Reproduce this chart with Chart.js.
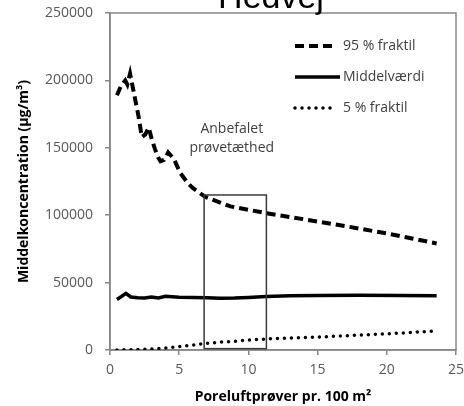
<!DOCTYPE html>
<html><head><meta charset="utf-8">
<script src="https://cdn.jsdelivr.net/npm/chart.js@4/dist/chart.umd.min.js"></script>
<style>html,body{margin:0;padding:0;background:#fff}#wrap{width:464px;height:406px;position:relative}</style>
</head><body><div id="wrap"><canvas id="c" width="464" height="406"></canvas></div>
<script>
const chartTitle = 'Hedvej';
const xAxisTitle = 'Poreluftprøver pr. 100 m²';
const yAxisTitle = 'Middelkoncentration (µg/m³)';
const seriesNames = ['95 % fraktil', 'Middelværdi', '5 % fraktil'];

const x95 = [0.5, 0.8, 1.1, 1.25, 1.45, 1.7, 2.05, 2.3, 2.55, 2.8, 3.0, 3.25, 3.5, 3.65, 3.9, 4.2, 4.6, 5.1, 5.6, 6.0, 6.9, 8.7, 11.3, 14, 17.1, 20, 23.6];
const y95 = [189000, 196000, 200000, 197000, 205000, 192000, 174000, 158000, 160000, 165000, 157000, 149000, 142500, 140000, 141000, 146500, 142000, 131000, 124000, 120000, 113500, 106500, 101500, 97000, 91700, 86500, 79000];

const xMean = [0.5, 0.8, 1.15, 1.5, 2.0, 2.5, 3.0, 3.5, 4.0, 5.0, 6.0, 7.0, 8.0, 9.0, 10, 11.3, 13, 15, 18, 21, 23.6];
const yMean = [37500, 39500, 42000, 39300, 38800, 38500, 39300, 38600, 39800, 39200, 38900, 38700, 38300, 38500, 39000, 39600, 40200, 40500, 40600, 40500, 40300];

const x5 = [0.5, 2, 3, 4, 5, 6, 7, 8, 9, 10, 11.3, 13, 15, 17.5, 20, 23.4];
const y5 = [0, 300, 800, 1500, 2500, 3600, 5000, 5800, 6500, 7300, 8200, 8800, 9600, 10800, 12000, 14000];

const xTickValues = [0, 5, 10, 15, 20, 25];
const yTickValues = [0, 50000, 100000, 150000, 200000, 250000];

const boxXRange = [6.8, 11.3];
const boxYRange = [1000, 115000];
const boxLabelLines = ['Anbefalet', 'prøvetæthed'];

const FONT = "'Open Sans', 'Liberation Sans', sans-serif";
const AXIS_GRAY = '#878787';

function pts(xs, ys) { return xs.map((x, i) => ({ x: x, y: ys[i] })); }

const framePlugin = {
  id: 'frame',
  beforeDatasetsDraw(chart) {
    const { ctx, chartArea: a } = chart;
    ctx.save();
    ctx.strokeStyle = AXIS_GRAY;
    ctx.lineWidth = 1.5;
    ctx.strokeRect(a.left, a.top, a.right - a.left, a.bottom - a.top);
    ctx.restore();
  }
};

const boxPlugin = {
  id: 'recBox',
  afterDatasetsDraw(chart) {
    const { ctx, scales: { x, y } } = chart;
    const x0 = x.getPixelForValue(boxXRange[0]), x1 = x.getPixelForValue(boxXRange[1]);
    const y0 = y.getPixelForValue(boxYRange[0]), y1 = y.getPixelForValue(boxYRange[1]);
    ctx.save();
    ctx.strokeStyle = '#3a3a3a';
    ctx.lineWidth = 1.5;
    ctx.strokeRect(x0, y1, x1 - x0, y0 - y1);
    ctx.fillStyle = '#404040';
    ctx.font = "14px " + FONT;
    ctx.textAlign = 'center';
    ctx.textBaseline = 'alphabetic';
    const cx = x.getPixelForValue(8.8);
    boxLabelLines.forEach((t, i) => ctx.fillText(t, cx, y1 - 62 + i * 19));
    ctx.restore();
  }
};

const legendPlugin = {
  id: 'lineLegend',
  afterDraw(chart) {
    const { ctx, chartArea: a } = chart;
    ctx.save();
    chart.data.datasets.forEach((ds, i) => {
      const yy = a.top + 33 + i * 31;
      const xs = a.left + 185;
      ctx.beginPath();
      ctx.strokeStyle = ds.borderColor;
      ctx.lineWidth = ds.borderWidth;
      ctx.lineCap = ds.borderCapStyle || 'butt';
      ctx.setLineDash(ds.borderDash || []);
      ctx.moveTo(xs, yy);
      ctx.lineTo(xs + (i === 1 ? 45 : 40), yy);
      ctx.stroke();
      ctx.setLineDash([]);
      ctx.fillStyle = '#404040';
      ctx.font = "14px " + FONT;
      ctx.textAlign = 'left';
      ctx.textBaseline = 'middle';
      ctx.fillText(ds.label, xs + 48, yy);
    });
    ctx.restore();
  }
};

const titlePlugin = {
  id: 'cutTitle',
  afterDraw(chart) {
    const { ctx } = chart;
    ctx.save();
    ctx.fillStyle = '#000';
    ctx.font = "34px 'Liberation Sans', Arial, sans-serif";
    ctx.textAlign = 'center';
    ctx.textBaseline = 'alphabetic';
    ctx.fillText(chartTitle, 271, 8);
    ctx.restore();
  }
};

new Chart(document.getElementById('c'), {
  type: 'line',
  data: {
    datasets: [
      { label: seriesNames[0], data: pts(x95, y95), borderColor: '#000', borderWidth: 4, borderDash: [9, 5], borderCapStyle: 'butt', pointRadius: 0, tension: 0, fill: false },
      { label: seriesNames[1], data: pts(xMean, yMean), borderColor: '#000', borderWidth: 3.5, pointRadius: 0, tension: 0, fill: false },
      { label: seriesNames[2], data: pts(x5, y5), borderColor: '#000', borderWidth: 3.5, borderDash: [0, 7], borderCapStyle: 'round', pointRadius: 0, tension: 0, fill: false }
    ]
  },
  options: {
    responsive: false,
    animation: false,
    devicePixelRatio: 1,
    layout: { padding: { top: 13, right: 8, left: 0, bottom: 0 } },
    plugins: { legend: { display: false }, title: { display: false }, tooltip: { enabled: false } },
    scales: {
      x: {
        type: 'linear', min: 0, max: 25,
        afterBuildTicks: s => { s.ticks = xTickValues.map(v => ({ value: v })); },
        afterFit: s => { s.height = 56; s.paddingLeft = 0; s.paddingRight = 0; },
        ticks: { font: { family: FONT, size: 14 }, color: '#595959', padding: 7, callback: v => String(v), maxRotation: 0 },
        grid: { drawOnChartArea: false, drawTicks: true, tickLength: 5, color: AXIS_GRAY, lineWidth: 1.5 },
        border: { color: AXIS_GRAY, width: 1.5 },
        title: { display: true, text: xAxisTitle, font: { family: FONT, size: 14, weight: 'bold' }, color: '#000', padding: { top: 0, bottom: 1 } }
      },
      y: {
        type: 'linear', min: 0, max: 250000,
        afterBuildTicks: s => { s.ticks = yTickValues.map(v => ({ value: v })); },
        afterFit: s => { s.width = 110; s.paddingTop = 0; s.paddingBottom = 0; },
        ticks: { font: { family: FONT, size: 14 }, color: '#595959', padding: 12, callback: v => String(v) },
        grid: { drawOnChartArea: false, drawTicks: true, tickLength: 5, color: AXIS_GRAY, lineWidth: 1.5 },
        border: { color: AXIS_GRAY, width: 1.5 },
        title: { display: true, text: yAxisTitle, font: { family: FONT, size: 14, weight: 'bold' }, color: '#000', padding: { top: 16, bottom: 0 } }
      }
    }
  },
  plugins: [framePlugin, boxPlugin, legendPlugin, titlePlugin]
});
</script>
</body></html>
